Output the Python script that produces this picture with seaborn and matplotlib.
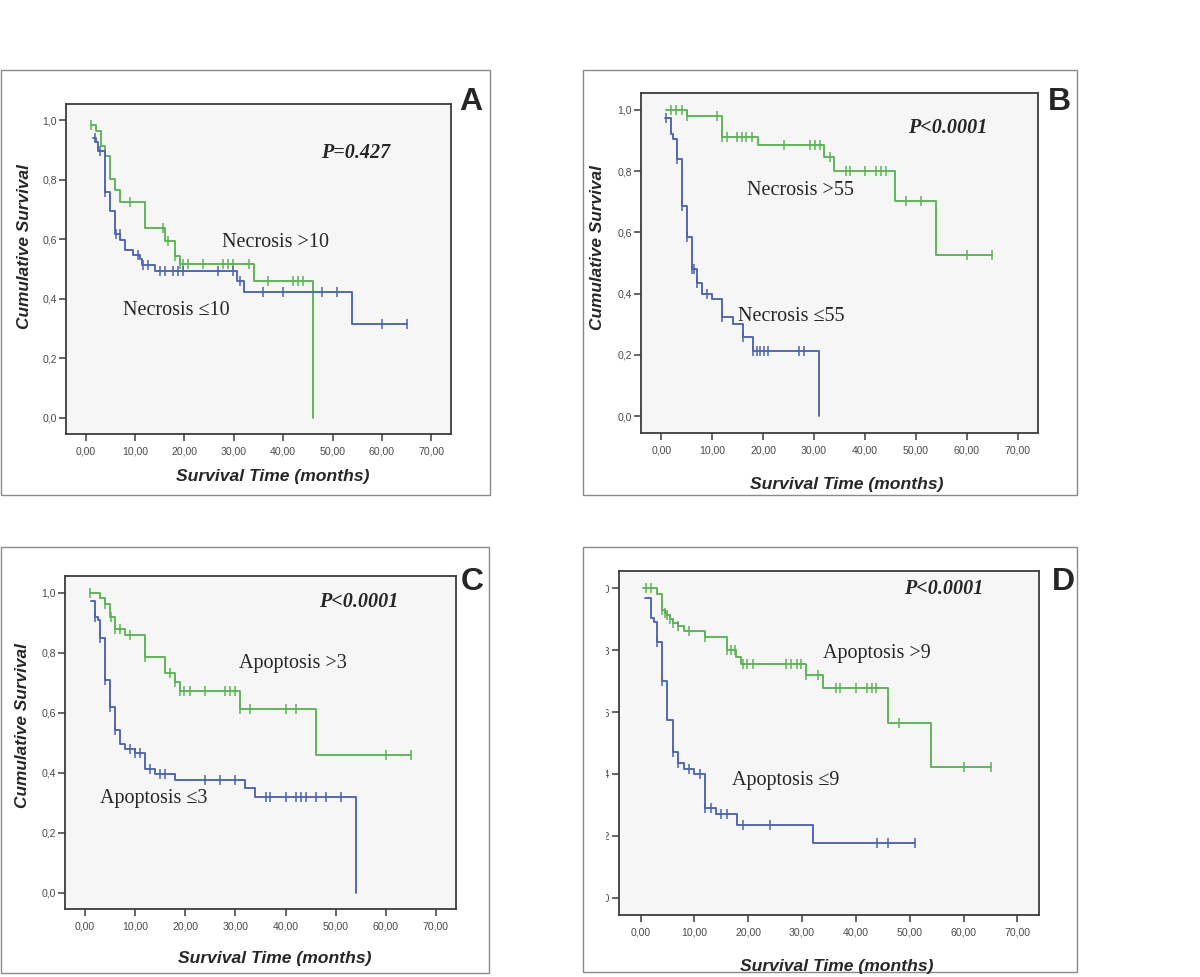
import numpy as np
import pandas as pd
import matplotlib
matplotlib.use('Agg')
import matplotlib.pyplot as plt
import seaborn as sns
from matplotlib.patches import Rectangle
from matplotlib.transforms import Bbox

W, H = 1200, 977

# ---- Kaplan-Meier step data (time in months, survival) ----
# Panel A: necrosis cut-off 10
a_hi_t = [1, 2, 3, 4, 5, 6, 7, 12, 16, 18, 19, 34, 46]
a_hi_s = [0.984, 0.965, 0.914, 0.879, 0.804, 0.767, 0.725, 0.639, 0.593, 0.543, 0.518, 0.459, 0.0]
a_hi_cens = [1, 9, 15.6, 16.6, 18.1, 19, 19.8, 20.8, 23.8, 27.8, 28.8, 29.8, 33, 36.9, 42, 43, 44]
a_lo_t = [1.4, 2, 2.5, 4, 5, 6, 7, 8, 9.6, 11, 11.4, 14, 30.6, 32, 54, 65]
a_lo_s = [0.942, 0.928, 0.898, 0.758, 0.694, 0.617, 0.599, 0.565, 0.548, 0.535, 0.513,
          0.492, 0.458, 0.421, 0.315, 0.315]
a_lo_cens = [1.8, 2.8, 4, 6.1, 6.9, 10.5, 11.6, 12.6, 15, 16, 17.7, 18.7, 19.7, 26.8, 29.8,
             31.2, 35.9, 40, 47.9, 51, 60, 65]

# Panel B: necrosis cut-off 55
b_hi_t = [1, 5, 12, 19, 32, 34, 46, 54, 65]
b_hi_s = [1.0, 0.979, 0.911, 0.884, 0.846, 0.801, 0.701, 0.526, 0.526]
b_hi_cens = [1.8, 2.8, 4, 5, 11, 12, 12.9, 14.8, 15.8, 16.7, 17.8, 24, 29.2, 30.2, 31.1, 33.1,
             36.3, 37, 40, 42.1, 43.1, 44.1, 48, 51, 60, 65]
b_lo_t = [0.7, 1.8, 2.3, 3, 4, 5, 6, 7, 8, 10, 12, 14, 16, 18, 31]
b_lo_s = [0.974, 0.92, 0.905, 0.84, 0.685, 0.585, 0.482, 0.435, 0.40, 0.382, 0.323, 0.302,
          0.26, 0.212, 0.0]
b_lo_cens = [0.9, 3, 4, 5, 6, 6.5, 7, 9, 12, 16, 18, 18.7, 19.4, 20.1, 21, 27, 28]

# Panel C: apoptosis cut-off 3
c_hi_t = [1, 3, 4, 5, 6, 8, 12, 16, 18, 19, 31, 46, 65]
c_hi_s = [1.0, 0.981, 0.962, 0.918, 0.879, 0.857, 0.786, 0.733, 0.702, 0.673, 0.612, 0.46, 0.46]
c_hi_cens = [1, 4, 5.1, 6, 7, 9, 12, 17, 18, 19, 19.8, 20.9, 24, 28, 29, 30, 31, 33, 40, 42,
             60, 65]
c_lo_t = [1.2, 2, 2.5, 3, 4, 5, 6, 7, 8, 10, 12, 14, 18, 32, 34, 54]
c_lo_s = [0.973, 0.92, 0.907, 0.85, 0.709, 0.62, 0.543, 0.495, 0.48, 0.465, 0.413, 0.395,
          0.374, 0.347, 0.32, 0.0]
c_lo_cens = [2, 3, 4, 5, 6, 9, 10, 11, 13, 15, 16, 24, 27, 30, 36, 36.8, 40, 42, 43, 44, 46,
             48, 51]

# Panel D: apoptosis cut-off 9
d_hi_t = [0.5, 3, 4, 4.5, 5, 5.5, 6, 7, 8, 12, 16, 17.8, 18.6, 30.7, 33.8, 46, 54, 65]
d_hi_s = [1.0, 0.982, 0.930, 0.921, 0.912, 0.90, 0.887, 0.876, 0.862, 0.842, 0.80, 0.778,
          0.755, 0.718, 0.677, 0.564, 0.422, 0.422]
d_hi_cens = [1, 2, 4, 4.5, 5, 5.5, 6, 7, 9, 12, 16, 16.8, 17.6, 19, 19.8, 20.8, 27, 28, 29,
             29.8, 30.8, 33, 36.3, 37, 40, 42, 43, 43.8, 48, 60, 65]
d_lo_t = [0.9, 2, 2.5, 3, 4, 5, 6, 7, 8, 10, 12, 14, 18, 32, 51]
d_lo_s = [0.969, 0.903, 0.889, 0.827, 0.699, 0.575, 0.47, 0.434, 0.417, 0.399, 0.291, 0.27,
          0.237, 0.178, 0.178]
d_lo_cens = [3, 4, 6, 7, 9, 11, 12, 13, 15, 16, 19, 24, 44, 46, 51]

x_ticks = [0, 10, 20, 30, 40, 50, 60, 70]
x_tick_labels = ['0,00', '10,00', '20,00', '30,00', '40,00', '50,00', '60,00', '70,00']
y_ticks = [0, 0.2, 0.4, 0.6, 0.8, 1.0]
y_tick_labels = ['0,0', '0,2', '0,4', '0,6', '0,8', '1,0']

GREEN = '#5cb356'
BLUE = '#4d63ad'
PANEL_BG = '#f6f6f6'

sns.set_style('ticks')
plt.rcParams['font.family'] = ['Liberation Sans', 'DejaVu Sans']

fig = plt.figure(figsize=(12, 9.77), dpi=100)
fig.patch.set_facecolor('white')


def px(x, y):
    # pixel position (from top-left) -> figure fraction
    return x / W, 1 - y / H


def level_at(times, surv, c):
    i = np.searchsorted(times, c, side='right') - 1
    return surv[max(i, 0)]


def draw_curve(ax, times, surv, cens, color):
    df = pd.DataFrame({'time': times, 'surv': surv})
    sns.lineplot(data=df, x='time', y='surv', ax=ax, color=color, estimator=None,
                 drawstyle='steps-post', linewidth=1.35)
    cdf = pd.DataFrame({'time': cens, 'surv': [level_at(times, surv, c) for c in cens]})
    sns.scatterplot(data=cdf, x='time', y='surv', ax=ax, color=color, marker='|',
                    s=55, linewidth=1.1, zorder=3)


def make_axes(rect):
    l, t, r, b = rect
    ax = fig.add_axes([l / W, 1 - b / H, (r - l) / W, (b - t) / H])
    ax.set_facecolor(PANEL_BG)
    return ax


def finish_axes(ax):
    ax.set_xlim(-4, 74)
    ax.set_ylim(-0.055, 1.055)
    ax.set_xticks(x_ticks)
    ax.set_xticklabels(x_tick_labels)
    ax.set_yticks(y_ticks)
    ax.set_yticklabels(y_tick_labels)
    ax.set(xlabel='', ylabel='')
    for sp in ax.spines.values():
        sp.set_visible(True)
        sp.set_color('#3c3c3c')
        sp.set_linewidth(1.3)
    ax.tick_params(direction='out', length=5, width=1.1, color='#3c3c3c',
                   labelsize=7.6, labelcolor='#4a4a4a')
    ax.tick_params(axis='x', pad=4)
    ax.tick_params(axis='y', pad=1.5)


def panel_box(x0, y0, x1, y1):
    fx0, fy1 = px(x0, y0)
    fx1, fy0 = px(x1, y1)
    fig.add_artist(Rectangle((fx0, fy0), fx1 - fx0, fy1 - fy0, transform=fig.transFigure,
                             fill=False, edgecolor='#8a8a8a', linewidth=1.0))


def fig_text(x, y, s, **kw):
    fx, fy = px(x, y)
    fig.text(fx, fy, s, **kw)


serif = ['Liberation Serif', 'DejaVu Serif']
label_kw = dict(fontsize=14.5, family=serif, va='baseline', ha='left')
p_kw = dict(fontsize=14.5, family=serif, weight='bold', style='italic', va='baseline',
            ha='center')
letter_kw = dict(fontsize=23, weight='bold', va='baseline', ha='center')
xlab_kw = dict(fontsize=12.6, weight='bold', style='italic', va='baseline', ha='center')
ylab_kw = dict(fontsize=12.4, weight='bold', style='italic', va='center', ha='center',
               rotation=90)

# outer panel frames
panel_box(0.5, 70, 490, 495)
panel_box(583, 70, 1077, 495)
panel_box(0.5, 547, 489, 973)
panel_box(583, 547, 1077, 972)

# Panel A
ax = make_axes((66, 104, 451, 434))
draw_curve(ax, a_hi_t, a_hi_s, a_hi_cens, GREEN)
draw_curve(ax, a_lo_t, a_lo_s, a_lo_cens, BLUE)
finish_axes(ax)
fig_text(356, 158, 'P=0.427', **p_kw)
fig_text(222, 247, 'Necrosis >10', **label_kw)
fig_text(123, 315, 'Necrosis \u226410', **label_kw)
fig_text(471, 110, 'A', **letter_kw)
fig_text(273, 481, 'Survival Time (months)', **xlab_kw)
fig_text(24.5, 247, 'Cumulative Survival', **ylab_kw)

# Panel B
ax = make_axes((641, 93, 1038, 433))
draw_curve(ax, b_hi_t, b_hi_s, b_hi_cens, GREEN)
draw_curve(ax, b_lo_t, b_lo_s, b_lo_cens, BLUE)
finish_axes(ax)
fig_text(948, 133, 'P<0.0001', **p_kw)
fig_text(747, 195, 'Necrosis >55', **label_kw)
fig_text(738, 321, 'Necrosis \u226455', **label_kw)
fig_text(1059, 110, 'B', **letter_kw)
fig_text(847, 489, 'Survival Time (months)', **xlab_kw)
fig_text(597.5, 248, 'Cumulative Survival', **ylab_kw)

# Panel C
ax = make_axes((65, 576, 456, 909))
draw_curve(ax, c_hi_t, c_hi_s, c_hi_cens, GREEN)
draw_curve(ax, c_lo_t, c_lo_s, c_lo_cens, BLUE)
finish_axes(ax)
fig_text(359, 607, 'P<0.0001', **p_kw)
fig_text(239, 668, 'Apoptosis >3', **label_kw)
fig_text(100, 803, 'Apoptosis \u22643', **label_kw)
fig_text(472, 590, 'C', **letter_kw)
fig_text(275, 963, 'Survival Time (months)', **xlab_kw)
fig_text(22.5, 726, 'Cumulative Survival', **ylab_kw)

# Panel D (y tick labels cut off by the crop in the original)
ax = make_axes((619, 571, 1039, 915))
draw_curve(ax, d_hi_t, d_hi_s, d_hi_cens, GREEN)
draw_curve(ax, d_lo_t, d_lo_s, d_lo_cens, BLUE)
finish_axes(ax)
clip = Bbox.from_extents(606, 0, W, H)
for tick in ax.yaxis.get_major_ticks():
    tick.label1.set_clip_box(clip)
    tick.label1.set_clip_on(True)
fig_text(944, 594, 'P<0.0001', **p_kw)
fig_text(823, 658, 'Apoptosis >9', **label_kw)
fig_text(732, 785, 'Apoptosis \u22649', **label_kw)
fig_text(1063, 590, 'D', **letter_kw)
fig_text(837, 971, 'Survival Time (months)', **xlab_kw)

fig.savefig('out.png', dpi=100, facecolor='white')
